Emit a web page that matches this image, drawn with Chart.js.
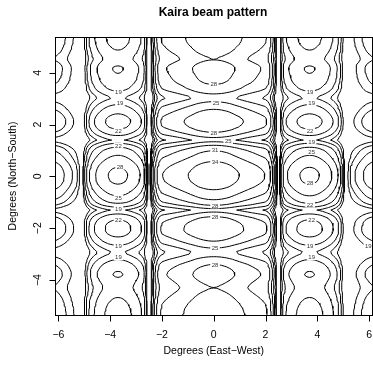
<!DOCTYPE html>
<html>
<head>
<meta charset="utf-8">
<script src="https://cdn.jsdelivr.net/npm/chart.js@4.4.1/dist/chart.umd.min.js"></script>
<style>
  html, body { margin: 0; padding: 0; background: #fff; }
  #wrap { width: 373px; height: 366px; position: relative; }
</style>
</head>
<body>
<div id="wrap"><canvas id="beam"></canvas></div>
<script>
// Kaira beam pattern - contour plot (dB)
const titleText = 'Kaira beam pattern';
const xTitle = 'Degrees (East\u2212West)';
const yTitle = 'Degrees (North\u2212South)';
const xTicks = [-6, -4, -2, 0, 2, 4, 6];
const yTicks = [-4, -2, 0, 2, 4];
const levels = [10, 13, 16, 19, 22, 25, 28, 31, 34];
const peakDb = 36;

// east-west cut through the beam, dB relative to peak
const xDeg = [-6.2,-6.1,-6.0,-5.9,-5.8,-5.7,-5.6,-5.5,-5.4,-5.3,-5.2,-5.1,-5.0,-4.9,-4.8,-4.7,-4.6,-4.5,-4.4,-4.3,-4.2,-4.1,-4.0,-3.9,-3.8,-3.7,-3.6,-3.5,-3.4,-3.3,-3.2,-3.1,-3.0,-2.9,-2.8,-2.7,-2.6,-2.5,-2.4,-2.3,-2.2,-2.1,-2.0,-1.9,-1.8,-1.7,-1.6,-1.5,-1.4,-1.3,-1.2,-1.1,-1.0,-0.9,-0.8,-0.7,-0.6,-0.5,-0.4,-0.3,-0.2,-0.1,0.0,0.1,0.2,0.3,0.4,0.5,0.6,0.7,0.8,0.9,1.0,1.1,1.2,1.3,1.4,1.5,1.6,1.7,1.8,1.9,2.0,2.1,2.2,2.3,2.4,2.5,2.6,2.7,2.8,2.9,3.0,3.1,3.2,3.3,3.4,3.5,3.6,3.7,3.8,3.9,4.0,4.1,4.2,4.3,4.4,4.5,4.6,4.7,4.8,4.9,5.0,5.1,5.2,5.3,5.4,5.5,5.6,5.7,5.8,5.9,6.0,6.1,6.2];
const ewDb = [-14.9,-15.2,-15.6,-16.1,-16.8,-17.6,-18.5,-19.5,-20.6,-22,-25,-30,-20.5,-16.5,-14,-12.5,-11.4,-10.5,-9.75,-9.1,-8.55,-8.1,-7.75,-7.5,-7.35,-7.3,-7.35,-7.5,-7.75,-8.1,-8.55,-9.1,-9.75,-10.5,-11.4,-13,-17,-30,-17,-11.5,-8.2,-6.0,-5.1,-4.75,-4.45,-4.15,-3.85,-3.55,-3.25,-2.95,-2.65,-2.35,-2.05,-1.75,-1.45,-1.12,-0.82,-0.57,-0.37,-0.2,-0.09,-0.02,0,-0.02,-0.09,-0.2,-0.37,-0.57,-0.82,-1.12,-1.45,-1.75,-2.05,-2.35,-2.65,-2.95,-3.25,-3.55,-3.85,-4.15,-4.45,-4.75,-5.1,-6.0,-8.2,-11.5,-17,-30,-17,-13,-11.4,-10.5,-9.75,-9.1,-8.55,-8.1,-7.75,-7.5,-7.35,-7.3,-7.35,-7.5,-7.75,-8.1,-8.55,-9.1,-9.75,-10.5,-11.4,-12.5,-14,-16.5,-20.5,-30,-25,-22,-20.6,-19.5,-18.5,-17.6,-16.8,-16.1,-15.6,-15.2,-14.9];

// north-south cut through the beam, dB relative to peak
const yDeg = [-5.4,-5.3,-5.2,-5.1,-5.0,-4.9,-4.8,-4.7,-4.6,-4.5,-4.4,-4.3,-4.2,-4.1,-4.0,-3.9,-3.8,-3.7,-3.6,-3.5,-3.4,-3.3,-3.2,-3.1,-3.0,-2.9,-2.8,-2.7,-2.6,-2.5,-2.4,-2.3,-2.2,-2.1,-2.0,-1.9,-1.8,-1.7,-1.6,-1.5,-1.4,-1.3,-1.2,-1.1,-1.0,-0.9,-0.8,-0.7,-0.6,-0.5,-0.4,-0.3,-0.2,-0.1,0.0,0.1,0.2,0.3,0.4,0.5,0.6,0.7,0.8,0.9,1.0,1.1,1.2,1.3,1.4,1.5,1.6,1.7,1.8,1.9,2.0,2.1,2.2,2.3,2.4,2.5,2.6,2.7,2.8,2.9,3.0,3.1,3.2,3.3,3.4,3.5,3.6,3.7,3.8,3.9,4.0,4.1,4.2,4.3,4.4,4.5,4.6,4.7,4.8,4.9,5.0,5.1,5.2,5.3,5.4];
const nsDb = [-5.3,-5.4,-5.5,-5.6,-5.8,-6.0,-6.3,-6.6,-7.0,-7.4,-7.8,-8.02,-7.85,-7.5,-7.1,-6.7,-6.5,-6.6,-6.9,-7.4,-8.0,-8.9,-9.8,-11.0,-12.1,-12.3,-11.4,-10.2,-9.0,-8.0,-7.2,-6.4,-5.8,-5.5,-5.5,-5.6,-5.9,-6.5,-7.4,-8.8,-10.6,-12.3,-10.0,-7.7,-6.1,-5.0,-4.1,-3.3,-2.6,-1.9,-1.2,-0.7,-0.3,-0.1,0,0,-0.2,-0.5,-0.9,-1.5,-2.2,-2.9,-3.6,-4.3,-5.1,-6.3,-8.0,-10.2,-12.4,-11.0,-9.3,-8.0,-6.9,-6.1,-5.7,-5.5,-5.6,-6.0,-6.6,-7.3,-8.1,-9.0,-10.0,-11.2,-12.3,-12.0,-10.8,-9.6,-8.8,-8.3,-7.7,-7.3,-7.05,-6.85,-6.65,-6.5,-6.5,-6.8,-7.4,-8.02,-7.9,-7.5,-7.0,-6.6,-6.3,-6.0,-5.8,-5.7,-5.6];

// contour labels as placed in the plot: [x deg, y deg, text]
const labelSpots = [
  [0.0, 3.57, '28'], [-3.68, 3.27, '19'], [3.72, 3.27, '19'],
  [0.09, 2.85, '25'], [-3.62, 2.82, '19'], [3.78, 2.82, '19'],
  [-3.68, 1.76, '22'], [3.72, 1.76, '22'], [0.0, 1.69, '28'],
  [0.56, 1.37, '25'], [3.78, 1.35, '19'], [-3.68, 1.18, '22'],
  [0.05, 1.03, '31'], [3.78, 0.94, '25'], [-3.62, 0.38, '28'],
  [0.05, 0.57, '34'], [3.72, -0.23, '28'], [-3.68, -0.81, '25'],
  [0.05, -1.12, '28'], [3.72, -1.09, '22'], [-3.68, -1.24, '19'],
  [0.05, -1.56, '28'], [-3.68, -1.67, '22'], [3.78, -1.67, '22'],
  [-3.68, -2.69, '19'], [0.05, -2.75, '25'], [3.72, -2.69, '19'],
  [5.97, -2.69, '19'], [-3.68, -3.12, '19'], [3.78, -3.12, '19'],
  [0.05, -3.42, '28']
];

function level(i, j) {
  return peakDb + ewDb[i] + nsDb[j];
}

// marching squares on the grid, joined into polylines
function contourData(lv) {
  const pts = {};
  const links = {};
  const cut = (key, xa, ya, va, xb, yb, vb) => {
    if (!(key in pts)) {
      const t = (lv - va) / (vb - va);
      pts[key] = { x: xa + t * (xb - xa), y: ya + t * (yb - ya) };
    }
    return key;
  };
  const link = (a, b) => {
    (links[a] = links[a] || []).push(b);
    (links[b] = links[b] || []).push(a);
  };
  for (let j = 0; j < yDeg.length - 1; j++) {
    for (let i = 0; i < xDeg.length - 1; i++) {
      const c = [level(i, j), level(i + 1, j), level(i + 1, j + 1), level(i, j + 1)];
      const up = c.map(v => v >= lv);
      const e = [];
      if (up[0] !== up[1]) e[0] = cut('h' + i + '_' + j, xDeg[i], yDeg[j], c[0], xDeg[i + 1], yDeg[j], c[1]);
      if (up[1] !== up[2]) e[1] = cut('v' + (i + 1) + '_' + j, xDeg[i + 1], yDeg[j], c[1], xDeg[i + 1], yDeg[j + 1], c[2]);
      if (up[2] !== up[3]) e[2] = cut('h' + i + '_' + (j + 1), xDeg[i + 1], yDeg[j + 1], c[2], xDeg[i], yDeg[j + 1], c[3]);
      if (up[3] !== up[0]) e[3] = cut('v' + i + '_' + j, xDeg[i], yDeg[j + 1], c[3], xDeg[i], yDeg[j], c[0]);
      const hit = [0, 1, 2, 3].filter(k => e[k] !== undefined);
      if (hit.length === 2) {
        link(e[hit[0]], e[hit[1]]);
      } else if (hit.length === 4) {
        const mid = (c[0] + c[1] + c[2] + c[3]) / 4 >= lv;
        if (mid === up[0]) { link(e[0], e[1]); link(e[2], e[3]); }
        else { link(e[3], e[0]); link(e[1], e[2]); }
      }
    }
  }
  const used = new Set();
  const walk = start => {
    const line = [start];
    used.add(start);
    let cur = start;
    for (;;) {
      const next = (links[cur] || []).find(k => !used.has(k));
      if (next === undefined) break;
      used.add(next);
      line.push(next);
      cur = next;
    }
    return line;
  };
  const lines = [];
  const keys = Object.keys(links);
  keys.forEach(k => { if (links[k].length === 1 && !used.has(k)) lines.push(walk(k)); });
  keys.forEach(k => { if (!used.has(k)) { const l = walk(k); l.push(k); lines.push(l); } });
  const data = [];
  lines.forEach(l => {
    l.forEach(k => data.push(pts[k]));
    data.push({ x: null, y: null });
  });
  return data;
}

const frame = {
  id: 'frame',
  afterDatasetsDraw(chart) {
    const { ctx, chartArea: { left, right, top, bottom }, scales: { x, y } } = chart;
    ctx.save();

    // contour labels
    ctx.font = '6px "Liberation Sans", Arial, sans-serif';
    ctx.textAlign = 'center';
    ctx.textBaseline = 'middle';
    labelSpots.forEach(([lx, ly, txt]) => {
      const px = x.getPixelForValue(lx);
      const py = y.getPixelForValue(ly);
      const w = ctx.measureText(txt).width + 3;
      ctx.fillStyle = '#fff';
      ctx.fillRect(px - w / 2, py - 3, w, 6);
      ctx.fillStyle = '#333';
      ctx.fillText(txt, px, py + 0.5);
    });

    // box
    ctx.strokeStyle = '#000';
    ctx.lineWidth = 1;
    ctx.strokeRect(Math.round(left) + 0.5, Math.round(top) + 0.5, Math.round(right - left) - 1, Math.round(bottom - top));

    // x axis
    ctx.fillStyle = '#000';
    ctx.font = '10.5px "Liberation Sans", Arial, sans-serif';
    ctx.textAlign = 'center';
    ctx.textBaseline = 'middle';
    const yb = Math.round(bottom) + 0.5;
    ctx.beginPath();
    ctx.moveTo(x.getPixelForValue(xTicks[0]), yb);
    ctx.lineTo(x.getPixelForValue(xTicks[xTicks.length - 1]), yb);
    xTicks.forEach(v => {
      const px = Math.round(x.getPixelForValue(v)) + 0.5;
      ctx.moveTo(px, yb);
      ctx.lineTo(px, yb + 6);
    });
    ctx.stroke();
    xTicks.forEach(v => {
      ctx.fillText(String(v).replace('-', '\u2212'), x.getPixelForValue(v), bottom + 20);
    });
    ctx.fillText(xTitle, (left + right) / 2, bottom + 36);

    // y axis
    const xl = Math.round(left) + 0.5;
    ctx.beginPath();
    ctx.moveTo(xl, y.getPixelForValue(yTicks[0]));
    ctx.lineTo(xl, y.getPixelForValue(yTicks[yTicks.length - 1]));
    yTicks.forEach(v => {
      const py = Math.round(y.getPixelForValue(v)) + 0.5;
      ctx.moveTo(xl, py);
      ctx.lineTo(xl - 6, py);
    });
    ctx.stroke();
    yTicks.forEach(v => {
      ctx.save();
      ctx.translate(left - 17, y.getPixelForValue(v));
      ctx.rotate(-Math.PI / 2);
      ctx.fillText(String(v).replace('-', '\u2212'), 0, 0);
      ctx.restore();
    });
    ctx.save();
    ctx.translate(13, (top + bottom) / 2);
    ctx.rotate(-Math.PI / 2);
    ctx.fillText(yTitle, 0, 0);
    ctx.restore();

    // title
    ctx.font = 'bold 12px "Liberation Sans", Arial, sans-serif';
    ctx.fillText(titleText, 213, 12.5);
    ctx.restore();
  }
};

new Chart(document.getElementById('beam'), {
  type: 'scatter',
  data: {
    datasets: levels.map(lv => ({
      label: String(lv),
      data: contourData(lv),
      showLine: true,
      spanGaps: false,
      borderColor: '#000',
      borderWidth: 1,
      pointRadius: 0,
      pointHoverRadius: 0,
      tension: 0,
      fill: false
    }))
  },
  options: {
    responsive: true,
    maintainAspectRatio: false,
    animation: false,
    events: [],
    layout: { padding: { left: 55, right: 0.5, top: 37, bottom: 51 } },
    plugins: { legend: { display: false }, tooltip: { enabled: false } },
    scales: {
      x: { type: 'linear', min: -6.13, max: 6.13, display: false },
      y: { type: 'linear', min: -5.35, max: 5.38, display: false }
    }
  },
  plugins: [frame]
});
</script>
</body>
</html>
